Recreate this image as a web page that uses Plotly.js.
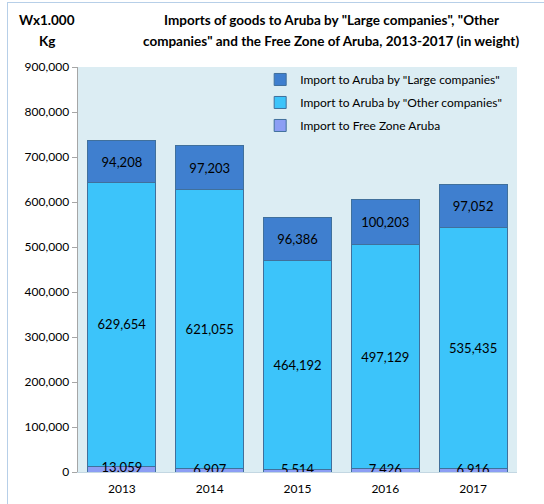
<!DOCTYPE html>
<html>
<head>
<meta charset="utf-8">
<script src="https://cdn.plot.ly/plotly-3.0.1.min.js"></script>
<style>
  html, body { margin: 0; padding: 0; background: #ffffff; }
  #wrap { position: relative; width: 544px; height: 504px; overflow: hidden; }
  #chart { position: absolute; left: 0; top: 0; width: 544px; height: 504px; }
  #frame { position: absolute; left: 7px; top: 2px; width: 560px; height: 520px;
           border: 1px solid #b7cfe8; pointer-events: none; }
</style>
</head>
<body>
<div id="wrap">
  <div id="chart"></div>
  <div id="frame"></div>
</div>
<script>
const years = ['2013', '2014', '2015', '2016', '2017'];
const freeZone = [13059, 6907, 5514, 7426, 6916];
const otherCompanies = [629654, 621055, 464192, 497129, 535435];
const largeCompanies = [94208, 97203, 96386, 100203, 97052];
const yTicks = [0, 100000, 200000, 300000, 400000, 500000, 600000, 700000, 800000, 900000];
const titleLines = ['Imports of goods to Aruba by "Large companies", "Other',
                    'companies" and the Free Zone of Aruba, 2013-2017 (in weight)'];
const unitLines = ['Wx1.000', 'Kg'];

const FONT = 'Lato, "Open Sans", "Liberation Sans", sans-serif';
const outline = { color: '#40709c', width: 1 };

const traces = [
  {
    type: 'bar', name: 'Import to Free Zone Aruba', x: years, y: freeZone,
    legendgroup: 'c', legendrank: 3,
    marker: { color: '#8c9ef4', line: outline },
    hoverinfo: 'x+y'
  },
  {
    type: 'bar', name: 'Import to Aruba by "Other companies"', x: years, y: otherCompanies,
    legendgroup: 'b', legendrank: 2,
    marker: { color: '#3cc4fa', line: outline },
    texttemplate: '%{y:,}', textposition: 'inside', insidetextanchor: 'middle',
    textfont: { family: FONT, size: 13, color: '#000000' },
    constraintext: 'none'
  },
  {
    type: 'bar', name: 'Import to Aruba by "Large companies"', x: years, y: largeCompanies,
    legendgroup: 'a', legendrank: 1,
    marker: { color: '#3f7fcf', line: outline },
    texttemplate: '%{y:,}', textposition: 'inside', insidetextanchor: 'middle',
    textfont: { family: FONT, size: 13, color: '#000000' },
    constraintext: 'none'
  },
  {
    type: 'scatter', mode: 'text', x: years, y: freeZone.map(v => v / 2),
    text: freeZone.map(v => v.toLocaleString('en-US')),
    textposition: 'middle center',
    textfont: { family: FONT, size: 13, color: '#000000' },
    showlegend: false, hoverinfo: 'skip'
  }
];

const boldFont = { family: FONT, size: 13.5, color: '#000000', weight: 'bold' };

const layout = {
  width: 544, height: 504,
  margin: { l: 78, r: 27, t: 67, b: 32, pad: 0 },
  paper_bgcolor: '#ffffff',
  plot_bgcolor: '#dcedf3',
  font: { family: FONT, size: 12, color: '#000000' },
  barmode: 'stack',
  bargap: 0.225,
  showlegend: true,
  xaxis: {
    type: 'category',
    showgrid: false, zeroline: false,
    showline: true, linecolor: '#c3d7e2', linewidth: 1,
    ticks: '', ticklabelstandoff: 6,
    tickfont: { family: FONT, size: 12, color: '#000000' }
  },
  yaxis: {
    range: [0, 900000],
    tickvals: yTicks,
    tickformat: ',',
    showgrid: false, zeroline: false,
    showline: true, linecolor: '#a6a6a6', linewidth: 1.5,
    ticks: 'outside', ticklen: 5, tickcolor: '#a6a6a6', tickwidth: 1,
    tickfont: { family: FONT, size: 12, color: '#000000' }
  },
  legend: {
    x: 0.415, xanchor: 'left', y: 1.005, yanchor: 'top',
    bgcolor: 'rgba(0,0,0,0)',
    traceorder: 'grouped',
    tracegroupgap: 4,
    font: { family: FONT, size: 12, color: '#000000' }
  },
  annotations: [
    { text: '<b>' + titleLines[0] + '</b>', xref: 'paper', yref: 'paper',
      x: 0.577, y: 1.116, xanchor: 'center', yanchor: 'middle', showarrow: false, font: boldFont },
    { text: '<b>' + titleLines[1] + '</b>', xref: 'paper', yref: 'paper',
      x: 0.577, y: 1.064, xanchor: 'center', yanchor: 'middle', showarrow: false, font: boldFont },
    { text: '<b>' + unitLines[0] + '</b>', xref: 'paper', yref: 'paper',
      x: -0.07, y: 1.116, xanchor: 'center', yanchor: 'middle', showarrow: false, font: boldFont },
    { text: '<b>' + unitLines[1] + '</b>', xref: 'paper', yref: 'paper',
      x: -0.07, y: 1.064, xanchor: 'center', yanchor: 'middle', showarrow: false, font: boldFont }
  ]
};

Plotly.newPlot('chart', traces, layout, { displayModeBar: false, staticPlot: true });
</script>
</body>
</html>
